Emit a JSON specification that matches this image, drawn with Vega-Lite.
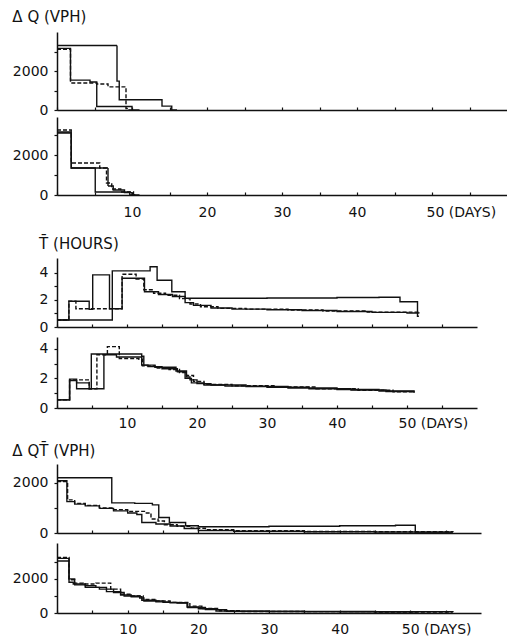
{
"$schema": "https://vega.github.io/schema/vega-lite/v6.json",
"background": "white",
"padding": {"left": 12, "top": 10, "right": 0, "bottom": 0},
"config": {
  "view": {"stroke": null},
  "font": "DejaVu Sans",
  "axis": {"domainColor": "#111", "tickColor": "#111", "labelColor": "#111", "labelFontSize": 14, "labelFont": "DejaVu Sans", "grid": false, "title": null, "domainWidth": 1.5, "tickWidth": 1.2, "labelOverlap": false, "labelFlush": false, "labelBound": false},
  "title": {"font": "DejaVu Sans", "fontSize": 15, "fontWeight": "normal", "color": "#111", "anchor": "start", "frame": "bounds"},
  "line": {"interpolate": "step-after", "color": "#111", "strokeWidth": 1.4}
},
"resolve": {"scale": {"strokeDash": "independent"}},
"data": {"values": [
{"p":1,"s":"a","d":0,"v":3350},{"p":1,"s":"a","d":8.0,"v":1500},{"p":1,"s":"a","d":8.3,"v":530},{"p":1,"s":"a","d":14.0,"v":200},{"p":1,"s":"a","d":15.3,"v":0},{"p":1,"s":"a","d":16,"v":0},
{"p":1,"s":"c","d":0,"v":3200},{"p":1,"s":"c","d":1.8,"v":1550},{"p":1,"s":"c","d":4.4,"v":1450},{"p":1,"s":"c","d":5.3,"v":180},{"p":1,"s":"c","d":10.0,"v":0},{"p":1,"s":"c","d":11,"v":0},
{"p":1,"s":"b","d":0,"v":3150},{"p":1,"s":"b","d":1.8,"v":1400},{"p":1,"s":"b","d":5.3,"v":1350},{"p":1,"s":"b","d":6.8,"v":1200},{"p":1,"s":"b","d":9.2,"v":80},{"p":1,"s":"b","d":9.5,"v":0},{"p":1,"s":"b","d":10,"v":0},
{"p":2,"s":"a","d":0,"v":3100},{"p":2,"s":"a","d":1.9,"v":1350},{"p":2,"s":"a","d":5.1,"v":150},{"p":2,"s":"a","d":9.7,"v":0},{"p":2,"s":"a","d":10.5,"v":0},
{"p":2,"s":"b","d":0,"v":3250},{"p":2,"s":"b","d":1.9,"v":1600},{"p":2,"s":"b","d":5.7,"v":1350},{"p":2,"s":"b","d":6.6,"v":600},{"p":2,"s":"b","d":7.3,"v":300},{"p":2,"s":"b","d":8.5,"v":150},{"p":2,"s":"b","d":10.2,"v":0},{"p":2,"s":"b","d":11,"v":0},
{"p":2,"s":"c","d":0,"v":3150},{"p":2,"s":"c","d":1.9,"v":1350},{"p":2,"s":"c","d":6.8,"v":450},{"p":2,"s":"c","d":7.5,"v":250},{"p":2,"s":"c","d":9,"v":120},{"p":2,"s":"c","d":10,"v":0},{"p":2,"s":"c","d":10.5,"v":0},
{"p":3,"s":"a","d":0,"v":0.52},{"p":3,"s":"a","d":1.7,"v":1.9},{"p":3,"s":"a","d":4.6,"v":1.3},{"p":3,"s":"a","d":5.1,"v":3.85},{"p":3,"s":"a","d":7.5,"v":1.35},{"p":3,"s":"a","d":9.3,"v":3.6},{"p":3,"s":"a","d":12.5,"v":2.6},{"p":3,"s":"a","d":14.5,"v":2.4},{"p":3,"s":"a","d":16.5,"v":2.25},{"p":3,"s":"a","d":18.3,"v":1.8},{"p":3,"s":"a","d":19.5,"v":1.6},{"p":3,"s":"a","d":22,"v":1.4},{"p":3,"s":"a","d":25,"v":1.32},{"p":3,"s":"a","d":30,"v":1.28},{"p":3,"s":"a","d":35,"v":1.22},{"p":3,"s":"a","d":40,"v":1.15},{"p":3,"s":"a","d":45,"v":1.08},{"p":3,"s":"a","d":50,"v":1.04},{"p":3,"s":"a","d":51.7,"v":1.0},
{"p":3,"s":"b","d":0,"v":0.52},{"p":3,"s":"b","d":1.7,"v":1.9},{"p":3,"s":"b","d":2.7,"v":1.35},{"p":3,"s":"b","d":9.3,"v":3.9},{"p":3,"s":"b","d":11.3,"v":3.55},{"p":3,"s":"b","d":12.4,"v":2.75},{"p":3,"s":"b","d":13.8,"v":2.5},{"p":3,"s":"b","d":15.5,"v":2.35},{"p":3,"s":"b","d":17.5,"v":2.1},{"p":3,"s":"b","d":19,"v":1.7},{"p":3,"s":"b","d":20.5,"v":1.5},{"p":3,"s":"b","d":23,"v":1.38},{"p":3,"s":"b","d":27,"v":1.32},{"p":3,"s":"b","d":33,"v":1.26},{"p":3,"s":"b","d":38,"v":1.18},{"p":3,"s":"b","d":44,"v":1.1},{"p":3,"s":"b","d":51.7,"v":1.02},
{"p":3,"s":"c","d":0,"v":0.52},{"p":3,"s":"c","d":7.9,"v":4.15},{"p":3,"s":"c","d":13.3,"v":4.45},{"p":3,"s":"c","d":14.3,"v":3.45},{"p":3,"s":"c","d":16.4,"v":2.6},{"p":3,"s":"c","d":18.3,"v":2.12},{"p":3,"s":"c","d":30,"v":2.14},{"p":3,"s":"c","d":40,"v":2.18},{"p":3,"s":"c","d":46,"v":2.2},{"p":3,"s":"c","d":49,"v":1.87},{"p":3,"s":"c","d":51.5,"v":0.8},{"p":3,"s":"c","d":51.7,"v":0.8},
{"p":4,"s":"a","d":0,"v":0.55},{"p":4,"s":"a","d":1.8,"v":1.95},{"p":4,"s":"a","d":2.8,"v":1.3},{"p":4,"s":"a","d":4.9,"v":3.65},{"p":4,"s":"a","d":12.1,"v":2.9},{"p":4,"s":"a","d":13,"v":2.8},{"p":4,"s":"a","d":15,"v":2.65},{"p":4,"s":"a","d":17.2,"v":2.45},{"p":4,"s":"a","d":18.3,"v":2.0},{"p":4,"s":"a","d":19.2,"v":1.7},{"p":4,"s":"a","d":21,"v":1.55},{"p":4,"s":"a","d":24,"v":1.48},{"p":4,"s":"a","d":30,"v":1.4},{"p":4,"s":"a","d":36,"v":1.3},{"p":4,"s":"a","d":42,"v":1.22},{"p":4,"s":"a","d":47,"v":1.12},{"p":4,"s":"a","d":51,"v":1.04},
{"p":4,"s":"b","d":0,"v":0.55},{"p":4,"s":"b","d":1.8,"v":1.9},{"p":4,"s":"b","d":4.6,"v":1.3},{"p":4,"s":"b","d":5.7,"v":3.6},{"p":4,"s":"b","d":7.2,"v":4.15},{"p":4,"s":"b","d":8.9,"v":3.35},{"p":4,"s":"b","d":11.7,"v":3.3},{"p":4,"s":"b","d":12.2,"v":2.85},{"p":4,"s":"b","d":14,"v":2.7},{"p":4,"s":"b","d":16,"v":2.6},{"p":4,"s":"b","d":17.5,"v":2.4},{"p":4,"s":"b","d":18.5,"v":2.2},{"p":4,"s":"b","d":19.5,"v":1.8},{"p":4,"s":"b","d":21,"v":1.6},{"p":4,"s":"b","d":25,"v":1.5},{"p":4,"s":"b","d":31,"v":1.42},{"p":4,"s":"b","d":37,"v":1.3},{"p":4,"s":"b","d":43,"v":1.2},{"p":4,"s":"b","d":48,"v":1.1},{"p":4,"s":"b","d":51,"v":1.02},
{"p":4,"s":"c","d":0,"v":0.55},{"p":4,"s":"c","d":1.8,"v":1.85},{"p":4,"s":"c","d":2.8,"v":1.7},{"p":4,"s":"c","d":4.6,"v":1.3},{"p":4,"s":"c","d":6.7,"v":3.6},{"p":4,"s":"c","d":8.5,"v":3.45},{"p":4,"s":"c","d":12.1,"v":3.5},{"p":4,"s":"c","d":12.4,"v":2.9},{"p":4,"s":"c","d":14,"v":2.75},{"p":4,"s":"c","d":17,"v":2.5},{"p":4,"s":"c","d":18.5,"v":2.1},{"p":4,"s":"c","d":19,"v":1.9},{"p":4,"s":"c","d":20,"v":1.65},{"p":4,"s":"c","d":22,"v":1.55},{"p":4,"s":"c","d":27,"v":1.45},{"p":4,"s":"c","d":33,"v":1.35},{"p":4,"s":"c","d":40,"v":1.25},{"p":4,"s":"c","d":46,"v":1.15},{"p":4,"s":"c","d":51,"v":1.05},
{"p":5,"s":"a","d":0,"v":2200},{"p":5,"s":"a","d":7.75,"v":1200},{"p":5,"s":"a","d":11,"v":1180},{"p":5,"s":"a","d":13.5,"v":1120},{"p":5,"s":"a","d":14.4,"v":620},{"p":5,"s":"a","d":15.9,"v":420},{"p":5,"s":"a","d":18.2,"v":290},{"p":5,"s":"a","d":20,"v":250},{"p":5,"s":"a","d":30,"v":270},{"p":5,"s":"a","d":40,"v":290},{"p":5,"s":"a","d":47.9,"v":310},{"p":5,"s":"a","d":50.7,"v":0},{"p":5,"s":"a","d":56,"v":0},
{"p":5,"s":"c","d":0,"v":2080},{"p":5,"s":"c","d":1.4,"v":1250},{"p":5,"s":"c","d":2.5,"v":1150},{"p":5,"s":"c","d":4,"v":1080},{"p":5,"s":"c","d":6,"v":980},{"p":5,"s":"c","d":8,"v":880},{"p":5,"s":"c","d":10,"v":800},{"p":5,"s":"c","d":11.3,"v":740},{"p":5,"s":"c","d":12,"v":420},{"p":5,"s":"c","d":14,"v":360},{"p":5,"s":"c","d":16,"v":280},{"p":5,"s":"c","d":18,"v":180},{"p":5,"s":"c","d":20,"v":100},{"p":5,"s":"c","d":25,"v":70},{"p":5,"s":"c","d":35,"v":50},{"p":5,"s":"c","d":45,"v":40},{"p":5,"s":"c","d":56,"v":30},
{"p":5,"s":"b","d":0,"v":2050},{"p":5,"s":"b","d":1.5,"v":1320},{"p":5,"s":"b","d":2.5,"v":1180},{"p":5,"s":"b","d":4,"v":1100},{"p":5,"s":"b","d":6,"v":1000},{"p":5,"s":"b","d":8,"v":930},{"p":5,"s":"b","d":10,"v":860},{"p":5,"s":"b","d":12.5,"v":800},{"p":5,"s":"b","d":13.3,"v":560},{"p":5,"s":"b","d":14.3,"v":480},{"p":5,"s":"b","d":15.2,"v":330},{"p":5,"s":"b","d":17,"v":270},{"p":5,"s":"b","d":19,"v":190},{"p":5,"s":"b","d":21,"v":130},{"p":5,"s":"b","d":25,"v":90},{"p":5,"s":"b","d":35,"v":60},{"p":5,"s":"b","d":45,"v":50},{"p":5,"s":"b","d":56,"v":40},
{"p":6,"s":"a","d":0,"v":3050},{"p":6,"s":"a","d":1.7,"v":1800},{"p":6,"s":"a","d":2.3,"v":1700},{"p":6,"s":"a","d":4,"v":1600},{"p":6,"s":"a","d":5.5,"v":1500},{"p":6,"s":"a","d":7,"v":1250},{"p":6,"s":"a","d":9,"v":1050},{"p":6,"s":"a","d":10.5,"v":950},{"p":6,"s":"a","d":12,"v":750},{"p":6,"s":"a","d":14,"v":650},{"p":6,"s":"a","d":16,"v":600},{"p":6,"s":"a","d":18.4,"v":350},{"p":6,"s":"a","d":20,"v":250},{"p":6,"s":"a","d":22.5,"v":120},{"p":6,"s":"a","d":25,"v":100},{"p":6,"s":"a","d":35,"v":90},{"p":6,"s":"a","d":45,"v":70},{"p":6,"s":"a","d":56,"v":60},
{"p":6,"s":"b","d":0,"v":3250},{"p":6,"s":"b","d":1.7,"v":1950},{"p":6,"s":"b","d":2.5,"v":1750},{"p":6,"s":"b","d":3.7,"v":1700},{"p":6,"s":"b","d":5.5,"v":1750},{"p":6,"s":"b","d":7.6,"v":1400},{"p":6,"s":"b","d":9,"v":1100},{"p":6,"s":"b","d":10.5,"v":1000},{"p":6,"s":"b","d":12.2,"v":800},{"p":6,"s":"b","d":14,"v":700},{"p":6,"s":"b","d":16,"v":620},{"p":6,"s":"b","d":18.8,"v":400},{"p":6,"s":"b","d":20.5,"v":260},{"p":6,"s":"b","d":23,"v":130},{"p":6,"s":"b","d":26,"v":90},{"p":6,"s":"b","d":35,"v":80},{"p":6,"s":"b","d":45,"v":60},{"p":6,"s":"b","d":56,"v":50},
{"p":6,"s":"c","d":0,"v":3200},{"p":6,"s":"c","d":1.7,"v":2000},{"p":6,"s":"c","d":2.5,"v":1650},{"p":6,"s":"c","d":4,"v":1500},{"p":6,"s":"c","d":6,"v":1400},{"p":6,"s":"c","d":8,"v":1200},{"p":6,"s":"c","d":9.5,"v":1000},{"p":6,"s":"c","d":11.7,"v":880},{"p":6,"s":"c","d":12.3,"v":700},{"p":6,"s":"c","d":15,"v":620},{"p":6,"s":"c","d":17,"v":580},{"p":6,"s":"c","d":18.5,"v":320},{"p":6,"s":"c","d":21,"v":200},{"p":6,"s":"c","d":24,"v":100},{"p":6,"s":"c","d":30,"v":80},{"p":6,"s":"c","d":40,"v":70},{"p":6,"s":"c","d":51,"v":60}
]},
"spacing": 18,
"vconcat": [
 {"spacing": 0, "vconcat": [
  {"title": {"text": "Δ Q (VPH)", "offset": 7}, "width": 450, "height": 78,
   "transform": [{"filter": "datum.p == 1"}], "mark": "line",
   "encoding": {
    "x": {"field": "d", "type": "quantitative", "scale": {"domain": [0, 60], "nice": false}, "axis": {"values": [0,5,10,15,20,25,30,35,40,45,50,55], "labels": false, "tickSize": -3}},
    "y": {"field": "v", "type": "quantitative", "scale": {"domain": [0, 4050], "nice": false}, "axis": {"values": [0,1000,2000,3000], "format": "d", "labelExpr": "datum.value == 0 || datum.value == 2000 ? datum.label : ''", "tickSize": 3, "labelPadding": 6}},
    "strokeDash": {"field": "s", "type": "nominal", "scale": {"domain": ["a","b","c"], "range": [[1,0],[4,2],[1,0]]}, "legend": null}
   }},
  {"width": 450, "height": 78,
   "transform": [{"filter": "datum.p == 2"}], "mark": "line",
   "encoding": {
    "x": {"field": "d", "type": "quantitative", "scale": {"domain": [0, 60], "nice": false}, "axis": {"values": [0,5,10,15,20,25,30,35,40,45,50,55], "tickSize": -3, "labelPadding": 13, "labelExpr": "datum.value == 50 ? '50 (DAYS)' : (datum.value % 10 == 0 && datum.value > 0 ? datum.label : '')", "labelAlign": {"condition": {"test": "datum.value == 50", "value": "left"}, "value": "center"}, "labelOffset": {"condition": {"test": "datum.value == 50", "value": -6}, "value": 0}}},
    "y": {"field": "v", "type": "quantitative", "scale": {"domain": [0, 3900], "nice": false}, "axis": {"values": [0,1000,2000,3000], "format": "d", "labelExpr": "datum.value == 0 || datum.value == 2000 ? datum.label : ''", "tickSize": 3, "labelPadding": 6}},
    "strokeDash": {"field": "s", "type": "nominal", "scale": {"domain": ["a","b","c"], "range": [[1,0],[4,2],[1,0]]}, "legend": null}
   }}
 ]},
 {"spacing": 14, "vconcat": [
 {"spacing": 3, "vconcat": [
  {"title": {"text": "T̄ (HOURS)", "offset": 6}, "width": 420, "height": 69,
   "transform": [{"filter": "datum.p == 3"}], "mark": "line",
   "encoding": {
    "x": {"field": "d", "type": "quantitative", "scale": {"domain": [0, 60], "nice": false}, "axis": {"values": [0,5,10,15,20,25,30,35,40,45,50,55], "labels": false, "tickSize": -3}},
    "y": {"field": "v", "type": "quantitative", "scale": {"domain": [0, 5.1], "nice": false}, "axis": {"values": [0,1,2,3,4], "labelExpr": "datum.value % 2 == 0 ? datum.label : ''", "tickSize": 3, "labelPadding": 6}},
    "strokeDash": {"field": "s", "type": "nominal", "scale": {"domain": ["a","b","c"], "range": [[1,0],[4,2],[1,0]]}, "legend": null}
   }},
  {"width": 420, "height": 71,
   "transform": [{"filter": "datum.p == 4"}], "mark": "line",
   "encoding": {
    "x": {"field": "d", "type": "quantitative", "scale": {"domain": [0, 60], "nice": false}, "axis": {"values": [0,5,10,15,20,25,30,35,40,45,50,55], "tickSize": -3, "labelPadding": 11, "labelExpr": "datum.value == 50 ? '50  (DAYS)' : (datum.value % 10 == 0 && datum.value > 0 ? datum.label : '')", "labelAlign": {"condition": {"test": "datum.value == 50", "value": "left"}, "value": "center"}, "labelOffset": {"condition": {"test": "datum.value == 50", "value": -9}, "value": 0}}},
    "y": {"field": "v", "type": "quantitative", "scale": {"domain": [0, 4.8], "nice": false}, "axis": {"values": [0,1,2,3,4], "labelExpr": "datum.value % 2 == 0 ? datum.label : ''", "tickSize": 3, "labelPadding": 6}},
    "strokeDash": {"field": "s", "type": "nominal", "scale": {"domain": ["a","b","c"], "range": [[1,0],[4,2],[1,0]]}, "legend": null}
   }}
 ]},
 {"spacing": 3, "vconcat": [
  {"title": {"text": "Δ QT̄ (VPH)", "offset": 5}, "width": 424, "height": 69,
   "transform": [{"filter": "datum.p == 5"}], "mark": "line",
   "encoding": {
    "x": {"field": "d", "type": "quantitative", "scale": {"domain": [0, 60], "nice": false}, "axis": {"values": [0,5,10,15,20,25,30,35,40,45,50,55], "labels": false, "tickSize": -3}},
    "y": {"field": "v", "type": "quantitative", "scale": {"domain": [0, 2750], "nice": false}, "axis": {"values": [0,1000,2000], "format": "d", "labelExpr": "datum.value == 0 || datum.value == 2000 ? datum.label : ''", "tickSize": 3, "labelPadding": 6}},
    "strokeDash": {"field": "s", "type": "nominal", "scale": {"domain": ["a","b","c"], "range": [[1,0],[4,2],[1,0]]}, "legend": null}
   }},
  {"width": 424, "height": 70,
   "transform": [{"filter": "datum.p == 6"}], "mark": "line",
   "encoding": {
    "x": {"field": "d", "type": "quantitative", "scale": {"domain": [0, 60], "nice": false}, "axis": {"values": [0,5,10,15,20,25,30,35,40,45,50,55], "tickSize": -3, "labelPadding": 12, "labelExpr": "datum.value == 50 ? '50 (DAYS)' : (datum.value % 10 == 0 && datum.value > 0 ? datum.label : '')", "labelAlign": {"condition": {"test": "datum.value == 50", "value": "left"}, "value": "center"}, "labelOffset": {"condition": {"test": "datum.value == 50", "value": -9}, "value": 0}}},
    "y": {"field": "v", "type": "quantitative", "scale": {"domain": [0, 4100], "nice": false}, "axis": {"values": [0,1000,2000,3000], "format": "d", "labelExpr": "datum.value == 0 || datum.value == 2000 ? datum.label : ''", "tickSize": 3, "labelPadding": 6}},
    "strokeDash": {"field": "s", "type": "nominal", "scale": {"domain": ["a","b","c"], "range": [[1,0],[4,2],[1,0]]}, "legend": null}
   }}
 ]}
 ]}
]
}
